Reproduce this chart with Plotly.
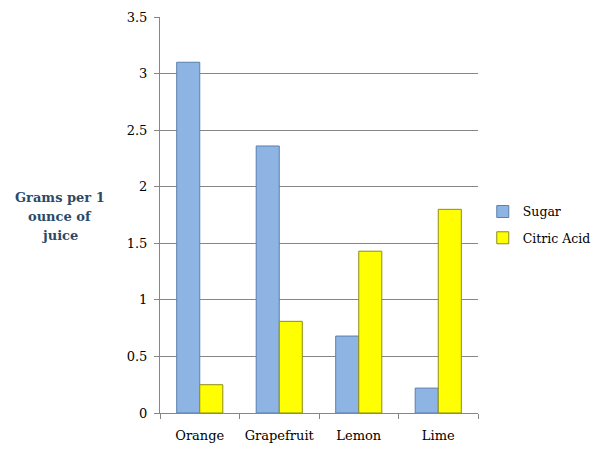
import plotly.graph_objects as go

categories = ["Orange", "Grapefruit", "Lemon", "Lime"]
sugar = [3.1, 2.36, 0.68, 0.22]
citric = [0.25, 0.81, 1.43, 1.80]
y_ticks = [0, 0.5, 1, 1.5, 2, 2.5, 3, 3.5]
y_labels = ["0", "0.5", "1", "1.5", "2", "2.5", "3", "3.5"]
title_lines = ["Grams per 1", "ounce of", "juice"]

font_family = "Georgia, 'DejaVu Serif', 'Liberation Serif', serif"

fig = go.Figure()
fig.add_trace(go.Bar(name="Sugar", x=categories, y=sugar, legendgroup="s",
                     marker=dict(color="#8EB4E3", line=dict(color="#5A7FAE", width=1))))
fig.add_trace(go.Bar(name="Citric Acid", x=categories, y=citric, legendgroup="c",
                     marker=dict(color="#FFFF00", line=dict(color="#8C8C1A", width=1))))

annotations = []
for i, line in enumerate(title_lines):
    annotations.append(dict(text="<b>" + line + "</b>",
                            xref="paper", yref="paper", x=-0.3145, y=0.545 - i * 0.048,
                            xanchor="center", yanchor="middle", showarrow=False,
                            font=dict(family=font_family, size=13, color="#2B4A6A")))

fig.update_layout(
    width=610, height=458,
    margin=dict(l=152, r=140, t=9, b=53),
    paper_bgcolor="white", plot_bgcolor="white",
    barmode="group", bargap=0.42, bargroupgap=0,
    font=dict(family=font_family, size=13, color="#000000"),
    showlegend=True,
    legend=dict(x=1.015, y=0.475, xanchor="left", yanchor="middle",
                font=dict(family=font_family, size=12.5), tracegroupgap=7,
                itemwidth=30, bgcolor="rgba(0,0,0,0)"),
    xaxis=dict(showline=True, linecolor="#868686", linewidth=1,
               ticks="outside", tickson="boundaries", ticklen=5, tickcolor="#868686",
               tickangle=0, automargin=False, ticklabelstandoff=10,
               showgrid=False, zeroline=False),
    yaxis=dict(range=[0, 3.5], tickvals=y_ticks, ticktext=y_labels,
               showline=True, linecolor="#868686", linewidth=1,
               ticks="outside", ticklen=5, tickcolor="#868686", automargin=False,
               ticklabelstandoff=4,
               showgrid=True, gridcolor="#868686", gridwidth=1, zeroline=False),
    annotations=annotations,
)

fig.write_html("out.html")
